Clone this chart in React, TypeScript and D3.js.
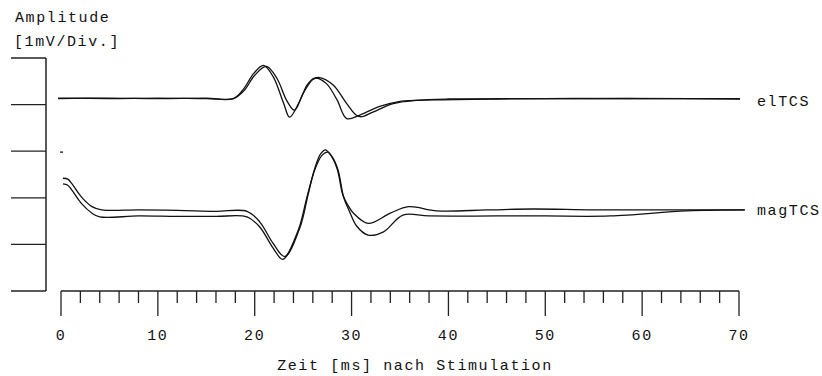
import React from "react";
import * as d3 from "d3";

// Time axis (ms) and amplitude axis (divisions, 1 mV/Div.)
const xMajorTicks = [0, 10, 20, 30, 40, 50, 60, 70];
const xMinorTicks = d3.range(0, 71, 2);
const yTicks = [0, 1, 2, 3, 4, 5];

const axisLabelY = ["Amplitude", "[1mV/Div."+"]"];
const axisLabelX = "Zeit [ms] nach Stimulation";
const channelNames = ["elTCS", "magTCS"];
const channelLabelLevels = [4.13, 1.78];

// elTCS traces: [time ms, amplitude in div]
const elTCS1: [number, number][] = [
  [-0.3, 4.14], [5, 4.13], [10, 4.14], [15, 4.13], [17.8, 4.13], [18.8, 4.32],
  [19.9, 4.67], [20.9, 4.84], [21.9, 4.6], [23.0, 4.02], [23.6, 3.73], [24.7, 4.1],
  [25.4, 4.42], [26.2, 4.57], [27.4, 4.45], [28.5, 4.1], [29.5, 3.7], [30.9, 3.78],
  [32.9, 3.96], [35.0, 4.07], [38.4, 4.1], [45, 4.12], [55, 4.13], [65, 4.13], [70.1, 4.13],
];
const elTCS2: [number, number][] = [
  [-0.3, 4.13], [5, 4.14], [10, 4.13], [15, 4.14], [17.8, 4.13], [18.9, 4.3],
  [20.0, 4.63], [21.2, 4.82], [22.3, 4.56], [23.3, 4.09], [24.1, 3.88], [25.0, 4.24],
  [26.0, 4.54], [26.7, 4.58], [28.1, 4.42], [29.5, 4.02], [30.5, 3.77], [31.0, 3.74],
  [32.2, 3.84], [34.3, 4.02], [36.7, 4.09], [40, 4.12], [50, 4.13], [60, 4.13], [70.1, 4.12],
];

// magTCS traces
const magTCS1: [number, number][] = [
  [0.2, 2.42], [0.7, 2.4], [1.1, 2.31], [2.1, 2.02], [3.2, 1.81], [4.2, 1.74],
  [8, 1.74], [12, 1.73], [16, 1.71], [19.2, 1.71], [20.5, 1.49], [21.9, 1.02],
  [23.1, 0.74], [24.7, 1.38], [25.5, 2.06], [26.2, 2.63], [26.8, 2.94], [27.3, 3.03],
  [27.8, 2.93], [28.5, 2.63], [29.1, 2.06], [29.6, 1.85], [30.2, 1.67], [31.7, 1.45],
  [34.0, 1.67], [35.9, 1.81], [38.8, 1.72], [44, 1.74], [48.7, 1.76], [55, 1.74],
  [62, 1.74], [70.6, 1.74],
];
const magTCS2: [number, number][] = [
  [0.2, 2.3], [0.7, 2.27], [1.1, 2.17], [2.1, 1.88], [3.2, 1.67], [4.0, 1.59],
  [8, 1.61], [12, 1.6], [16, 1.6], [19.2, 1.59], [20.5, 1.38], [21.9, 0.92],
  [22.9, 0.68], [24.5, 1.31], [25.4, 2.02], [26.2, 2.6], [26.9, 2.9], [27.5, 2.98],
  [28.0, 2.88], [28.6, 2.6], [29.2, 2.0], [29.8, 1.7], [30.5, 1.4], [31.7, 1.2],
  [33.3, 1.27], [35.3, 1.63], [38, 1.61], [45, 1.61], [50, 1.61], [56.7, 1.61],
  [64.6, 1.72], [70.6, 1.74],
];

const traces = [elTCS1, elTCS2, magTCS1, magTCS2];
const calibrationMark: [number, number] = [0, 2.98];

const FONT = "'Liberation Mono', 'DejaVu Sans Mono', monospace";

export default function App() {
  const x = d3.scaleLinear().domain([0, 70]).range([61, 739]);
  const y = d3.scaleLinear().domain([0, 5]).range([291, 58]);
  const line = d3
    .line<[number, number]>()
    .x((d) => x(d[0]))
    .y((d) => y(d[1]))
    .curve(d3.curveCatmullRom.alpha(0.5));

  const textStyle = { fontFamily: FONT, fontSize: 15, letterSpacing: 1.6, fill: "#111" } as const;

  return (
    <svg
      width={822}
      height={376}
      style={{ position: "absolute", left: 0, top: 0, background: "#fff" }}
    >
      {/* Y axis */}
      <line x1={46} x2={46} y1={y(5)} y2={y(0)} stroke="#222" strokeWidth={1.5} />
      {yTicks.map((t) => (
        <line key={t} x1={11} x2={46} y1={y(t)} y2={y(t)} stroke="#222" strokeWidth={1.3} />
      ))}
      <text x={15} y={22} style={textStyle}>{axisLabelY[0]}</text>
      <text x={14} y={46} style={textStyle}>{axisLabelY[1]}</text>

      {/* X axis */}
      <line x1={x(0)} x2={x(70)} y1={291} y2={291} stroke="#222" strokeWidth={1.3} />
      {xMinorTicks.map((t) => (
        <line key={"m" + t} x1={x(t)} x2={x(t)} y1={291} y2={t % 10 === 0 ? 316 : 303} stroke="#222" strokeWidth={1.3} />
      ))}
      {xMajorTicks.map((t) => (
        <text key={"l" + t} x={x(t)} y={340} textAnchor="middle" style={textStyle}>
          {t}
        </text>
      ))}
      <text x={415} y={370} textAnchor="middle" style={textStyle}>{axisLabelX}</text>

      {/* traces */}
      {traces.map((tr, i) => (
        <path key={i} d={line(tr) || ""} fill="none" stroke="#111" strokeWidth={1.3} />
      ))}
      <line
        x1={x(calibrationMark[0]) - 1}
        x2={x(calibrationMark[0]) + 2}
        y1={y(calibrationMark[1])}
        y2={y(calibrationMark[1])}
        stroke="#333"
        strokeWidth={1.5}
      />

      {/* channel labels */}
      {channelNames.map((n, i) => (
        <text key={n} x={757} y={y(channelLabelLevels[i]) + 7} style={textStyle}>
          {n}
        </text>
      ))}
    </svg>
  );
}
